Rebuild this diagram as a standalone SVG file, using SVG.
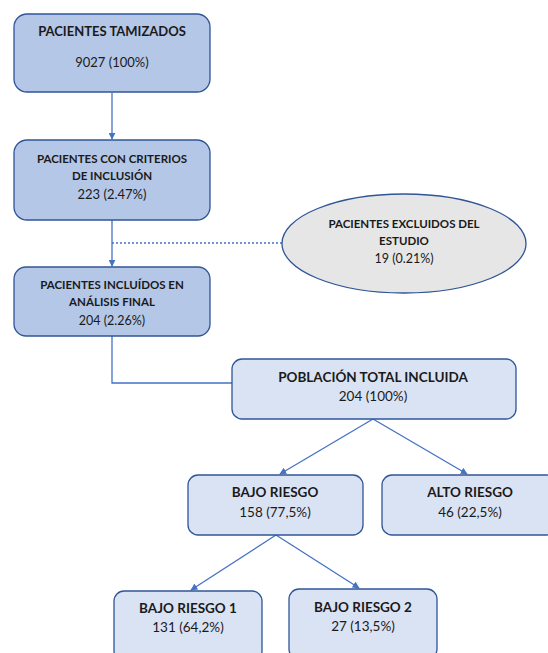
<svg xmlns="http://www.w3.org/2000/svg" width="548" height="653" viewBox="0 0 548 653">
<style>
.box{stroke:#2f5597;stroke-width:1.3}
.dark{fill:#b4c7e7}
.light{fill:#dae3f3}
.ell{fill:#e7e6e6;stroke:#2f5597;stroke-width:1.3}
text{font-family:Lato,"Liberation Sans",sans-serif;fill:#1a1a1a;text-anchor:middle}
.b{font-weight:bold}
.s{font-size:11.5px}
.n{font-size:12.5px}
.m{font-size:13px}
.l{font-size:13.5px}
.con{stroke:#4472c4;stroke-width:1.3;fill:none}
</style>
<defs>
<marker id="ar" viewBox="0 0 10 10" refX="9" refY="5" markerWidth="7" markerHeight="7" orient="auto" markerUnits="userSpaceOnUse">
<path d="M0,0 L10,5 L0,10 z" fill="#4472c4"/>
</marker>
</defs>
<g id="connectors">
<line class="con" x1="112" y1="93" x2="112" y2="139" marker-end="url(#ar)"/>
<line class="con" x1="112" y1="220" x2="112" y2="266" marker-end="url(#ar)"/>
<line class="con" x1="112" y1="243" x2="282" y2="243" stroke-dasharray="2,2"/>
<polyline class="con" points="112,336 112,383 232,383"/>
<line class="con" x1="373" y1="419" x2="280" y2="474" marker-end="url(#ar)"/>
<line class="con" x1="373" y1="419" x2="467" y2="474" marker-end="url(#ar)"/>
<line class="con" x1="276" y1="535" x2="191" y2="590" marker-end="url(#ar)"/>
<line class="con" x1="276" y1="535" x2="359" y2="588" marker-end="url(#ar)"/>
</g>
<g id="n1">
<rect class="box dark" x="14" y="14" width="196" height="78" rx="13"/>
<text class="b m" x="112" y="36">PACIENTES TAMIZADOS</text>
<text class="m" x="112" y="67">9027 (100%)</text>
</g>
<g id="n2">
<rect class="box dark" x="14" y="140" width="196" height="80" rx="13"/>
<text class="b s" x="112" y="163">PACIENTES CON CRITERIOS</text>
<text class="b s" x="112" y="180">DE INCLUSIÓN</text>
<text class="m" x="112" y="199">223 (2.47%)</text>
</g>
<g id="n3">
<rect class="box dark" x="14" y="267" width="196" height="69" rx="12"/>
<text class="b s" x="112" y="289">PACIENTES INCLUÍDOS EN</text>
<text class="b s" x="112" y="306">ANÁLISIS FINAL</text>
<text class="n" x="112" y="325">204 (2.26%)</text>
</g>
<g id="n4">
<ellipse class="ell" cx="404" cy="243.5" rx="122" ry="49.5"/>
<text class="b s" x="404" y="228">PACIENTES EXCLUIDOS DEL</text>
<text class="b s" x="404" y="245">ESTUDIO</text>
<text class="n" x="404" y="263">19 (0.21%)</text>
</g>
<g id="n5">
<rect class="box light" x="232" y="359" width="284" height="60" rx="10"/>
<text class="b l" x="373" y="382">POBLACIÓN TOTAL INCLUIDA</text>
<text class="l" x="373" y="401">204 (100%)</text>
</g>
<g id="n6">
<rect class="box light" x="188" y="475" width="175" height="60" rx="10"/>
<text class="b l" x="275" y="497">BAJO RIESGO</text>
<text class="l" x="275" y="517">158 (77,5%)</text>
</g>
<g id="n7">
<rect class="box light" x="382" y="475" width="175" height="60" rx="10"/>
<text class="b l" x="470" y="497">ALTO RIESGO</text>
<text class="l" x="470" y="517">46 (22,5%)</text>
</g>
<g id="n8">
<rect class="box light" x="114" y="591" width="148" height="70" rx="10"/>
<text class="b l" x="188" y="613">BAJO RIESGO 1</text>
<text class="l" x="188" y="632">131 (64,2%)</text>
</g>
<g id="n9">
<rect class="box light" x="289" y="589" width="148" height="70" rx="10"/>
<text class="b l" x="363" y="612">BAJO RIESGO 2</text>
<text class="l" x="363" y="631">27 (13,5%)</text>
</g>
</svg>
